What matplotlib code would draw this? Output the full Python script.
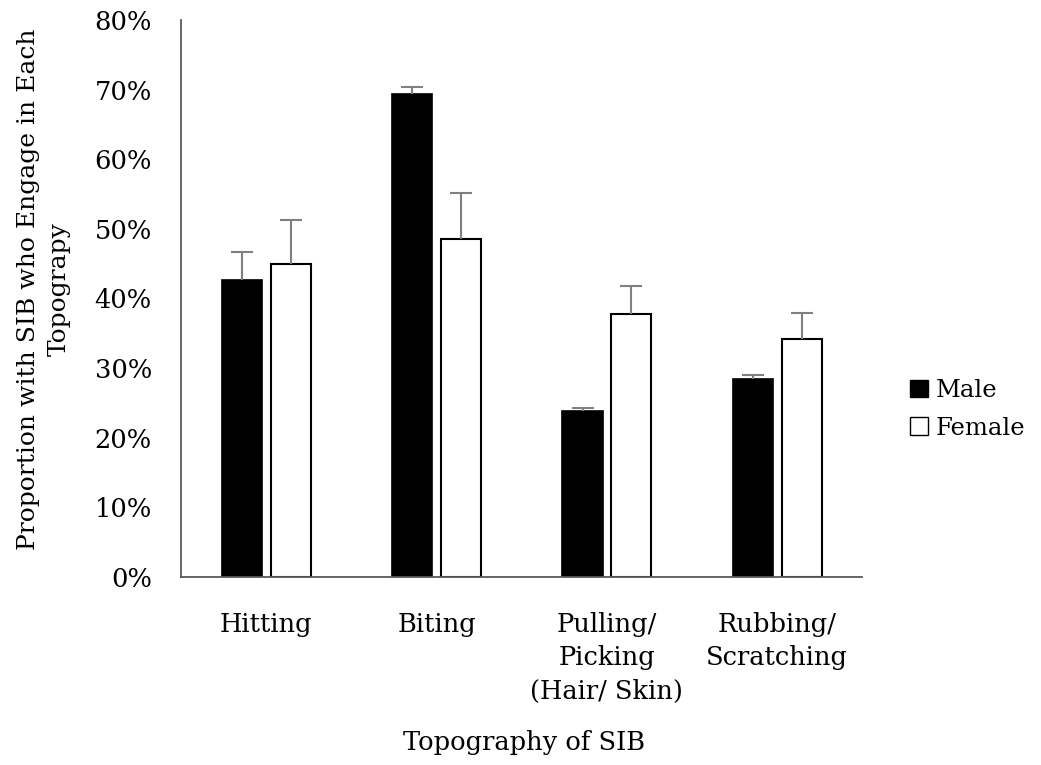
import matplotlib.pyplot as plt
import numpy as np
from matplotlib.patches import Patch
from matplotlib.ticker import PercentFormatter

categories = ["Hitting", "Biting", "Pulling/\nPicking\n(Hair/ Skin)", "Rubbing/\nScratching"]
male = [42.6, 69.4, 23.8, 28.4]
female = [44.9, 48.5, 37.8, 34.2]
male_err = [4.1, 1.0, 0.5, 0.6]
female_err = [6.3, 6.6, 4.0, 3.7]

plt.rcParams["font.family"] = ["DejaVu Serif"]
FS = 18.5

fig = plt.figure(figsize=(10.41, 7.65), dpi=100)
ax = fig.add_axes([0.1739, 0.2458, 0.6545, 0.7282])

x = np.arange(len(categories))
width = 0.235
offset = 0.143
err_style = dict(ecolor="#808080", elinewidth=1.5, capsize=8, capthick=1.5)

bars_m = ax.bar(x - offset, male, width, color="black", edgecolor="black", linewidth=1.2,
                yerr=[np.zeros(len(male)), male_err], error_kw=err_style, label="Male")
bars_f = ax.bar(x + offset, female, width, color="white", edgecolor="black", linewidth=1.5,
                yerr=[np.zeros(len(female)), female_err], error_kw=err_style, label="Female")

# only the upper cap should show
for container in (bars_m, bars_f):
    caps = container.errorbar.lines[1]
    caps[0].set_visible(False)

ax.set_xlim(-0.5, 3.5)
ax.set_ylim(0, 80)
ax.set_yticks(np.arange(0, 81, 10))
ax.yaxis.set_major_formatter(PercentFormatter(decimals=0))
ax.set_xticks(x)
ax.set_xticklabels(categories, fontsize=FS, linespacing=1.42)
ax.tick_params(axis="both", length=0, labelsize=FS)
ax.tick_params(axis="x", pad=25)
ax.tick_params(axis="y", pad=21)

for side in ["top", "right"]:
    ax.spines[side].set_visible(False)
for side in ["left", "bottom"]:
    ax.spines[side].set_color("#595959")
    ax.spines[side].set_linewidth(1.3)

ax.set_xlabel("Topography of SIB", fontsize=FS, va="center")
ax.xaxis.set_label_coords(0.503, -0.298)
ax.set_ylabel("Proportion with SIB who Engage in Each\nTopograpy", fontsize=18,
              linespacing=1.4, va="center")
ax.yaxis.set_label_coords(-0.201, 0.517)

handles = [Patch(facecolor="black", edgecolor="black"),
           Patch(facecolor="white", edgecolor="black")]
fig.legend(handles, ["Male", "Female"], loc="center left", bbox_to_anchor=(0.853, 0.465),
           frameon=False, fontsize=17.5, handlelength=0.75, handleheight=0.75,
           handletextpad=0.3, labelspacing=0.6)

fig.savefig("out.png", dpi=100)
